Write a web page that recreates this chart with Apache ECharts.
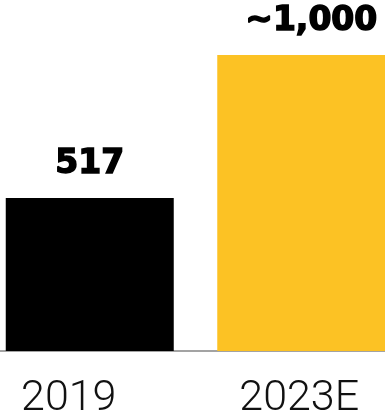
<!DOCTYPE html>
<html>
<head>
<meta charset="utf-8">
<script src="https://cdn.jsdelivr.net/npm/echarts@6/dist/echarts.min.js"></script>
<style>
  html, body { margin: 0; padding: 0; background: #fff; }
  #chart { width: 385px; height: 416px; }
</style>
</head>
<body>
<div id="chart"></div>
<script>
// Categories and values
const categories = ['2019', '2023E'];
const values = [517, 1000];
const valueLabels = ['517', '~1,000'];
const barColors = ['#000000', '#FCC224'];

const chart = echarts.init(document.getElementById('chart'), null, { renderer: 'canvas' });

chart.setOption({
  animation: false,
  backgroundColor: '#ffffff',
  grid: {
    left: -16,
    right: -22,
    top: 55,
    bottom: 65,
    containLabel: false,
    outerBoundsMode: 'none'
  },
  xAxis: {
    type: 'category',
    data: categories,
    axisLine: { show: true, lineStyle: { color: '#a3a3a3', width: 2 } },
    axisTick: { show: false },
    axisLabel: {
      interval: 0,
      hideOverlap: false,
      margin: 27,
      fontFamily: 'Roboto',
      fontWeight: 300,
      fontSize: 43,
      color: '#111111',
      formatter: function (v) {
        return v === '2019' ? '{a|' + v + '}' : '{b|' + v + '}';
      },
      rich: {
        a: { fontFamily: 'Roboto', fontWeight: 300, fontSize: 43, color: '#111111', padding: [0, 42, 0, 0] },
        b: { fontFamily: 'Roboto', fontWeight: 300, fontSize: 43, color: '#111111', padding: [0, 4, 0, 0] }
      }
    }
  },
  yAxis: {
    type: 'value',
    min: 0,
    max: 1000,
    show: false,
    splitLine: { show: false }
  },
  series: [{
    type: 'bar',
    barWidth: 168,
    data: values.map(function (v, i) {
      return {
        value: v,
        itemStyle: { color: barColors[i] },
        label: {
          show: true,
          position: 'top',
          distance: 17,
          offset: i === 1 ? [10, 0] : [0, 0],
          formatter: valueLabels[i],
          fontFamily: 'DejaVu Sans',
          fontWeight: 'bold',
          fontSize: 33,
          color: '#000000',
          textBorderColor: '#000000',
          textBorderWidth: 1.5
        }
      };
    })
  }]
});
</script>
</body>
</html>
